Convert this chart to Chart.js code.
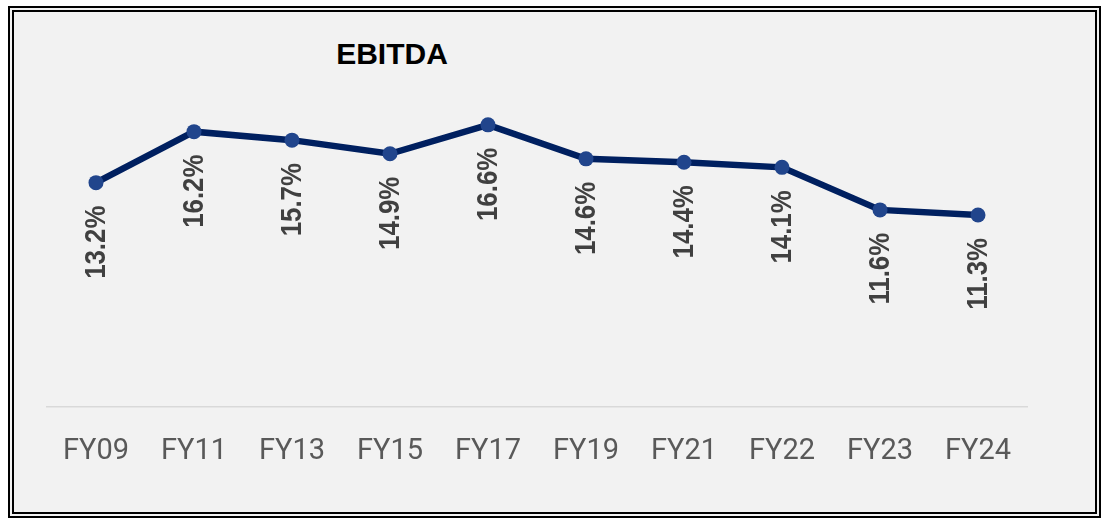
<!DOCTYPE html>
<html>
<head>
<meta charset="utf-8">
<script src="https://cdn.jsdelivr.net/npm/chart.js@4.4.1/dist/chart.umd.min.js"></script>
<style>
  html, body { margin: 0; padding: 0; background: #fff; }
  #frame {
    position: absolute; left: 8px; top: 6px; width: 1093px; height: 512px;
    box-sizing: border-box; border: 6px double #000; background: #f2f2f2;
  }
  #title {
    position: absolute; left: 292px; top: 39px; width: 200px; text-align: center;
    font: bold 30px "Liberation Sans", Arial, sans-serif; line-height: 30px; color: #000;
  }
  #wrap { position: absolute; left: 0; top: 0; width: 1102px; height: 520px; }
</style>
</head>
<body>
<div id="frame"></div>
<div id="title">EBITDA</div>
<div id="wrap"><canvas id="CHARTEBITDA"></canvas></div>
<script>
  const years = ['FY09', 'FY11', 'FY13', 'FY15', 'FY17', 'FY19', 'FY21', 'FY22', 'FY23', 'FY24'];
  const ebitda = [13.2, 16.2, 15.7, 14.9, 16.6, 14.6, 14.4, 14.1, 11.6, 11.3];

  // rotated value labels under each point
  const valueLabels = {
    id: 'valueLabels',
    afterDatasetsDraw(chart) {
      const ctx = chart.ctx;
      const meta = chart.getDatasetMeta(0);
      ctx.save();
      ctx.fillStyle = '#404040';
      ctx.font = 'bold 30px "Liberation Sans", Arial, sans-serif';
      ctx.textAlign = 'right';
      ctx.textBaseline = 'middle';
      meta.data.forEach((pt, i) => {
        ctx.save();
        ctx.translate(pt.x, pt.y + 23);
        ctx.rotate(-Math.PI / 2);
        ctx.scale(0.86, 1);
        ctx.fillText(ebitda[i].toFixed(1) + '%', 0, 1);
        ctx.restore();
      });
      ctx.restore();
    }
  };

  const ctx1 = document.getElementById('CHARTEBITDA');

  new Chart(ctx1, {
    type: 'line',
    data: {
      labels: years,
      datasets: [{
        label: 'EBITDA',
        data: ebitda,
        borderColor: '#002060',
        borderWidth: 6.5,
        pointBackgroundColor: '#21458c',
        pointBorderWidth: 0,
        pointRadius: 7.5,
        tension: 0
      }]
    },
    options: {
      responsive: true,
      maintainAspectRatio: false,
      animation: false,
      layout: { padding: { left: 47, right: 75, top: 67, bottom: 24 } },
      plugins: {
        legend: { display: false },
        tooltip: { enabled: false }
      },
      scales: {
        x: {
          offset: true,
          grid: { display: false, drawTicks: false },
          border: { display: true, color: '#d9d9d9', width: 1.5 },
          ticks: {
            color: '#595959',
            padding: 27,
            font: { family: 'Roboto', size: 29 }
          }
        },
        y: {
          display: false,
          min: 0,
          max: 20
        }
      }
    },
    plugins: [valueLabels]
  });
</script>
</body>
</html>
